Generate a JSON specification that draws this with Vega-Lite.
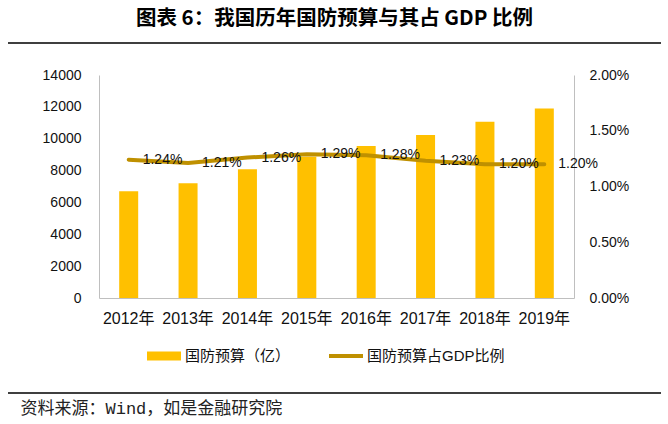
{
  "$schema": "https://vega.github.io/schema/vega-lite/v6.json",
  "autosize": "none",
  "width": 653,
  "height": 350,
  "padding": {"left": 8, "top": 43, "right": 7, "bottom": 31},
  "background": "white",
  "title": {
    "text": "图表 6：我国历年国防预算与其占 GDP 比例",
    "anchor": "middle",
    "font": "Noto Sans CJK SC",
    "fontSize": 20.5,
    "fontWeight": "bold",
    "color": "#000000",
    "offset": 14
  },
  "data": {
    "values": [
      {"year": "2012年", "budget": 6703, "ratio": 0.0124},
      {"year": "2013年", "budget": 7202, "ratio": 0.0121},
      {"year": "2014年", "budget": 8082, "ratio": 0.0126},
      {"year": "2015年", "budget": 8869, "ratio": 0.0129},
      {"year": "2016年", "budget": 9544, "ratio": 0.0128},
      {"year": "2017年", "budget": 10226, "ratio": 0.0123},
      {"year": "2018年", "budget": 11069, "ratio": 0.012},
      {"year": "2019年", "budget": 11899, "ratio": 0.012}
    ]
  },
  "config": {
    "view": {"stroke": "#000000", "strokeWidth": 1.5, "strokeDash": [653, 350, 653, 350]},
    "axis": {
      "labelFont": "Liberation Sans, Noto Sans CJK SC",
      "labelColor": "#111111",
      "domainColor": "#BFBFBF",
      "domainWidth": 1,
      "ticks": false,
      "grid": false
    },
    "legend": {
      "labelFont": "Liberation Sans, Noto Sans CJK SC",
      "labelColor": "#111111"
    }
  },
  "encoding": {
    "x": {
      "field": "year",
      "type": "nominal",
      "sort": null,
      "scale": {"range": [91, 566], "paddingInner": 0.68, "paddingOuter": 0.34},
      "axis": {
        "orient": "bottom",
        "offset": -95,
        "labelAngle": 0,
        "labelFontSize": 16,
        "labelPadding": 12,
        "title": "资料来源：Wind，如是金融研究院",
        "titleFont": "Liberation Mono, Noto Sans CJK SC",
        "titleFontSize": 17,
        "titleFontWeight": "normal",
        "titleColor": "#222222",
        "titleAlign": "left",
        "titleAnchor": "start",
        "titleBaseline": "middle",
        "titleX": 12,
        "titleY": 110
      }
    }
  },
  "layer": [
    {
      "mark": {"type": "bar", "width": 19},
      "encoding": {
        "y": {
          "field": "budget",
          "type": "quantitative",
          "scale": {"domain": [0, 14000], "range": [255, 32], "nice": false},
          "axis": {
            "orient": "left",
            "offset": -91,
            "values": [0, 2000, 4000, 6000, 8000, 10000, 12000, 14000],
            "format": "d",
            "labelFontSize": 14,
            "labelPadding": 18,
            "title": null
          }
        },
        "color": {
          "datum": "国防预算（亿）",
          "type": "nominal",
          "scale": {
            "domain": ["国防预算（亿）", "国防预算占GDP比例"],
            "range": ["#FFC000", "#BF9000"]
          },
          "legend": {
            "orient": "none",
            "legendX": 139,
            "legendY": 296,
            "direction": "horizontal",
            "title": null,
            "padding": 0,
            "symbolSize": 1156,
            "labelFontSize": 15,
            "labelOffset": 4,
            "columnPadding": 38,
            "encode": {
              "symbols": {
                "update": {
                  "shape": {"signal": "datum.value === '国防预算（亿）' ? 'M-1,-0.27H1V0.27H-1Z' : 'M-1,-0.12H1V0.12H-1Z'"},
                  "fill": {"scale": "color", "field": "value"},
                  "strokeWidth": {"value": 0},
                  "opacity": {"value": 1},
                  "fillOpacity": {"value": 1}
                }
              }
            }
          }
        }
      }
    },
    {
      "encoding": {
        "y": {
          "field": "ratio",
          "type": "quantitative",
          "scale": {"domain": [0, 0.02], "range": [255, 32], "nice": false},
          "axis": {
            "orient": "right",
            "offset": -87,
            "values": [0, 0.005, 0.01, 0.015, 0.02],
            "format": ".2%",
            "labelFontSize": 14,
            "labelPadding": 15,
            "title": null
          }
        }
      },
      "layer": [
        {
          "mark": {"type": "line", "strokeWidth": 4, "strokeCap": "round", "strokeJoin": "round"},
          "encoding": {
            "color": {"datum": "国防预算占GDP比例", "type": "nominal"}
          }
        },
        {
          "mark": {"type": "text", "align": "left", "baseline": "middle", "dx": 14, "font": "Liberation Sans", "fontSize": 14, "color": "#111111"},
          "encoding": {
            "text": {"field": "ratio", "type": "quantitative", "format": ".2%"}
          }
        }
      ]
    }
  ],
  "resolve": {"scale": {"y": "independent"}}
}
